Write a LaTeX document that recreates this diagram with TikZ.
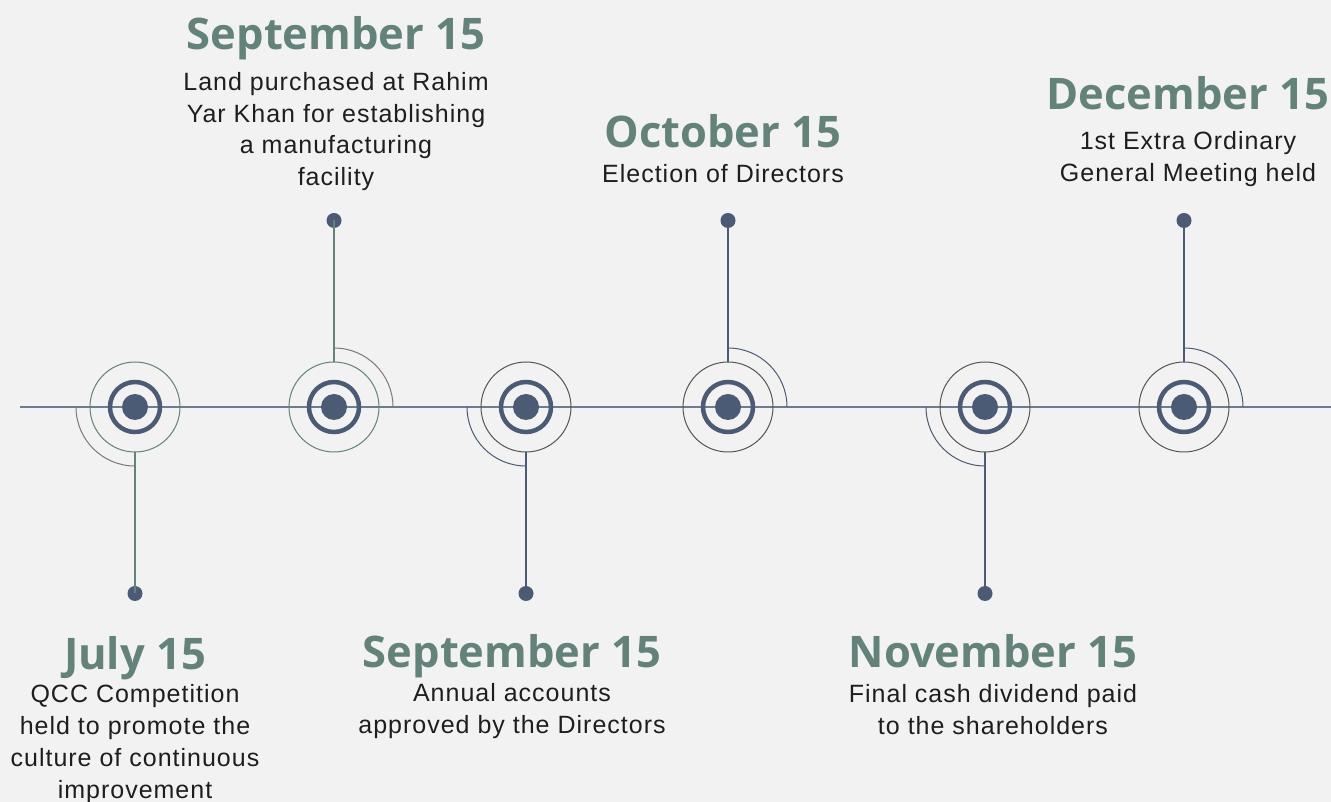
\documentclass[tikz,border=0pt]{standalone}
\usepackage{fontspec}
\setmainfont{Liberation Sans}[LetterSpace=4]
\newfontfamily\headfont{Open Sans}
\usepackage{tikz}
\usetikzlibrary{positioning}

\definecolor{paper}{HTML}{F2F2F2}
\definecolor{slate}{HTML}{4B5B75}
\definecolor{sage}{HTML}{62827A}
\definecolor{axisblue}{HTML}{6C7C92}
\definecolor{ringgray}{HTML}{555555}
\definecolor{arcgray}{HTML}{7A7A7A}
\definecolor{ink}{HTML}{1E1E1E}

\tikzset{
  axis/.style={axisblue, line width=1.7pt},
  hub/.style={circle, fill=slate, inner sep=0pt, minimum size=26pt},
  tipdot/.style={circle, fill=slate, inner sep=0pt, minimum size=15pt},
  datelabel/.style={font=\headfont\bfseries\fontsize{43.5}{43.5}\selectfont, text=sage, inner sep=0pt, anchor=base},
  blurb/.style={font=\fontsize{25}{31.8}\selectfont, text=ink, align=center, inner sep=0pt, anchor=north},
}

\begin{document}
\begin{tikzpicture}[x=1pt, y=1pt]
\fill[paper] (0,-395) rectangle (1331,407);
\useasboundingbox (0,-395) rectangle (1331,407);

% time axis
\coordinate (start) at (20,0);
\coordinate (finish) at (1331,0);
\draw[axis] (start) -- (finish);

% milestones: x / side (1 up, -1 down) / ring colour / stem colour / arc colour
\foreach \x/\s/\ring/\stem/\arc [count=\i,
    evaluate=\s as \sa using 90-90*\s,
    evaluate=\s as \ea using 180-90*\s] in
  {135/-1/sage/sage/arcgray, 334/1/sage/sage/arcgray,
   526/-1/ringgray/slate/slate, 728/1/ringgray/slate/slate,
   985/-1/ringgray/slate/slate, 1184/1/ringgray/slate/slate}
{
  \node[hub] (hub\i) at (\x,0) {};
  \draw[slate, line width=4.5pt] (hub\i.center) circle (25pt);
  \draw[\ring, line width=1pt] (hub\i.center) circle (45pt);
  \draw[\arc, line width=1pt] (hub\i.center) ++(\sa:59pt)
    arc[start angle=\sa, end angle=\ea, radius=59pt];
  \coordinate (rim\i) at (\x,45*\s);
  \node[tipdot] (tip\i) at (\x,186.5*\s) {};
  \draw[\stem, line width=2pt] (rim\i) -- (tip\i.center);
}

% dates and notes above the axis
\node[datelabel] (sep1-date) at (336,357) {September 15};
\node[blurb, below=22pt of sep1-date.base] (sep1-text)
  {Land purchased at Rahim\\Yar Khan for establishing\\a manufacturing\\facility};

\node[datelabel] (oct-date) at (723,259) {October 15};
\node[blurb, below=16pt of oct-date.base] (oct-text) {Election of Directors};

\node[datelabel] (dec-date) at (1188,297) {December 15};
\node[blurb, below=21.5pt of dec-date.base] (dec-text)
  {1st Extra Ordinary\\General Meeting held};

% dates and notes below the axis
\node[datelabel] (jul-date) at (135,-263) {July 15};
\node[blurb, below=14.5pt of jul-date.base] (jul-text)
  {QCC Competition\\held to promote the\\culture of continuous\\improvement};

\node[datelabel] (sep2-date) at (512,-261) {September 15};
\node[blurb, below=15.5pt of sep2-date.base] (sep2-text)
  {Annual accounts\\approved by the Directors};

\node[datelabel] (nov-date) at (993,-261) {November 15};
\node[blurb, below=16pt of nov-date.base] (nov-text)
  {Final cash dividend paid\\to the shareholders};
\end{tikzpicture}
\end{document}
